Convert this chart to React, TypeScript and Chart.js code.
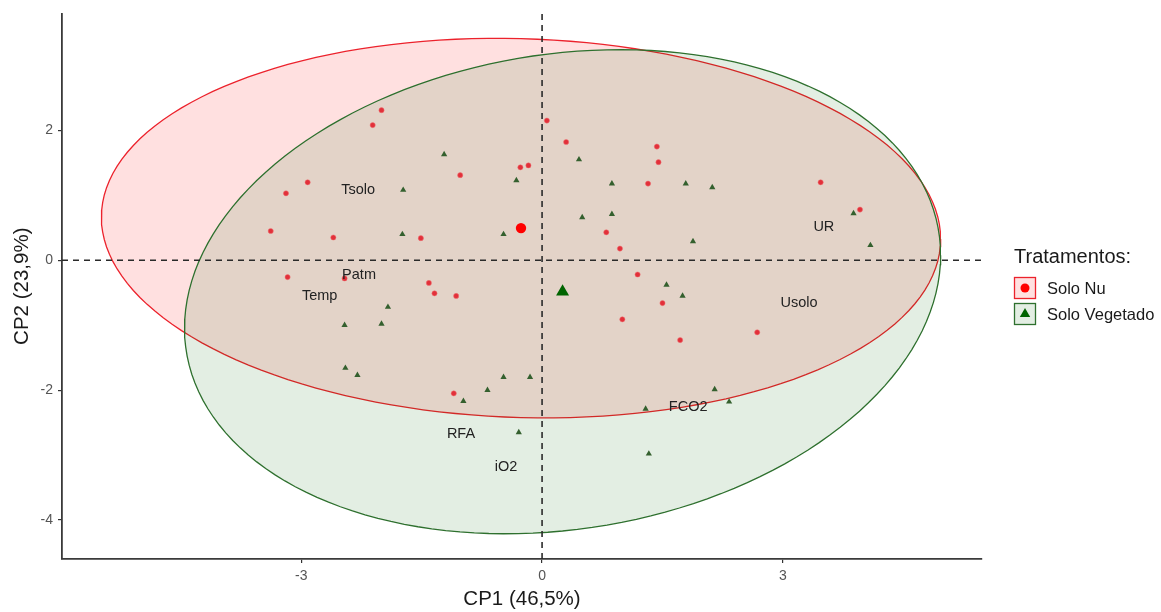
import React, { useEffect, useRef } from 'react';
import { Chart, registerables } from 'chart.js';

Chart.register(...registerables);

// ---------- data ----------
const GROUPS = ['Solo Nu', 'Solo Vegetado'];
const LEGEND_TITLE = 'Tratamentos:';
const X_TITLE = 'CP1 (46,5%)';
const Y_TITLE = 'CP2 (23,9%)';
const X_TICKS = [-3, 0, 3];
const Y_TICKS = [-4, -2, 0, 2];
const X_RANGE = [-5.98, 5.48];
const Y_RANGE = [-4.6, 3.8];

// Solo Nu individuals (CP1, CP2)
const NU_X = [-2.0, -2.11, -2.92, -3.19, -3.38, -2.6, -1.51, -1.02, -0.27, -0.17,
  0.06, 0.3, 1.43, 1.45, 1.32, 0.8, 0.97, 1.19, 1.5, 1.0,
  1.72, 2.68, 3.47, 3.96, -3.17, -2.46, -1.41, -1.34, -1.07, -1.1];
const NU_Y = [2.31, 2.08, 1.2, 1.03, 0.45, 0.35, 0.34, 1.31, 1.43, 1.46,
  2.15, 1.82, 1.75, 1.51, 1.18, 0.43, 0.18, -0.22, -0.66, -0.91,
  -1.23, -1.11, 1.2, 0.78, -0.26, -0.28, -0.35, -0.51, -0.55, -2.05];

// Solo Vegetado individuals (CP1, CP2)
const VEG_X = [-1.22, -1.73, -1.74, 0.46, -0.32, 0.87, 0.5, 0.87, -0.48, 1.79,
  2.12, 1.88, 3.88, 4.09, -1.92, -2.46, -2.0, -2.45, -2.3, -0.48,
  -0.15, -0.68, -0.98, -0.29, 1.29, 1.33, 1.55, 1.75, 2.15, 2.33];
const VEG_Y = [1.63, 1.08, 0.4, 1.55, 1.23, 1.18, 0.66, 0.71, 0.4, 1.18,
  1.12, 0.29, 0.72, 0.23, -0.72, -1.0, -0.98, -1.66, -1.77, -1.8,
  -1.8, -2.0, -2.17, -2.65, -2.29, -2.98, -0.38, -0.55, -1.99, -2.18];

// variable labels
const VAR_NAMES = ['Tsolo', 'Patm', 'Temp', 'UR', 'Usolo', 'FCO2', 'RFA', 'iO2'];
const VAR_X = [-2.29, -2.28, -2.77, 3.51, 3.2, 1.82, -1.01, -0.45];
const VAR_Y = [1.08, -0.22, -0.55, 0.51, -0.66, -2.26, -2.68, -3.18];

// 95% normal ellipse radius: sqrt(2 * qf(0.95, 2, 29))
const ELLIPSE_RADIUS = 2.58;

// ---------- styles ----------
const FONT = '"Liberation Sans", Arial, Helvetica, sans-serif';
const RED_LINE = 'rgb(236,34,44)';
const RED_FILL = 'rgba(255,0,0,0.12)';
const RED_PT = 'rgb(226,48,58)';
const RED_MEAN = 'rgb(255,0,0)';
const GREEN_LINE = 'rgb(46,112,46)';
const GREEN_FILL = 'rgba(0,100,0,0.11)';
const GREEN_PT = 'rgb(52,96,46)';
const GREEN_MEAN = 'rgb(0,100,0)';

function mean(a: number[]) {
  return a.reduce((s, v) => s + v, 0) / a.length;
}

function ellipsePoints(xs: number[], ys: number[], r: number, n = 160) {
  const N = xs.length;
  const mx = mean(xs);
  const my = mean(ys);
  let sxx = 0, syy = 0, sxy = 0;
  for (let i = 0; i < N; i++) {
    const dx = xs[i] - mx;
    const dy = ys[i] - my;
    sxx += dx * dx;
    syy += dy * dy;
    sxy += dx * dy;
  }
  sxx /= N - 1; syy /= N - 1; sxy /= N - 1;
  const a = Math.sqrt(sxx);
  const b = sxy / a;
  const c = Math.sqrt(syy - b * b);
  const pts: { x: number; y: number }[] = [];
  for (let k = 0; k <= n; k++) {
    const t = (2 * Math.PI * k) / n;
    const u = Math.cos(t), v = Math.sin(t);
    pts.push({ x: mx + r * (u * a), y: my + r * (u * b + v * c) });
  }
  return pts;
}

const toPts = (xs: number[], ys: number[]) => xs.map((x, i) => ({ x, y: ys[i] }));

const overlayPlugin = {
  id: 'overlay',
  afterDatasetsDraw(chart: any) {
    const ctx = chart.ctx;
    const xs = chart.scales.x;
    const ys = chart.scales.y;
    ctx.save();
    ctx.font = `14.5px ${FONT}`;
    ctx.fillStyle = '#222';
    ctx.textAlign = 'center';
    ctx.textBaseline = 'middle';
    VAR_NAMES.forEach((name, i) => {
      ctx.fillText(name, xs.getPixelForValue(VAR_X[i]), ys.getPixelForValue(VAR_Y[i]));
    });
    ctx.restore();
  },
  afterDraw(chart: any) {
    const ctx = chart.ctx;
    const left = 1014;
    ctx.save();
    ctx.fillStyle = '#1a1a1a';
    ctx.textAlign = 'left';
    ctx.textBaseline = 'middle';
    ctx.font = `20px ${FONT}`;
    ctx.fillText(LEGEND_TITLE, left, 257);
    const keys = [
      { fill: RED_FILL, line: RED_LINE, pt: RED_MEAN, shape: 'circle' },
      { fill: GREEN_FILL, line: GREEN_LINE, pt: GREEN_MEAN, shape: 'triangle' },
    ];
    keys.forEach((k, i) => {
      const top = 277 + i * 26;
      const size = 22;
      ctx.fillStyle = '#fff';
      ctx.fillRect(left, top, size, size);
      ctx.fillStyle = k.fill;
      ctx.fillRect(left, top, size, size);
      ctx.strokeStyle = k.line;
      ctx.lineWidth = 1.3;
      ctx.strokeRect(left + 0.5, top + 0.5, size - 1, size - 1);
      const cx = left + size / 2;
      const cy = top + size / 2;
      ctx.fillStyle = k.pt;
      ctx.beginPath();
      if (k.shape === 'circle') {
        ctx.arc(cx, cy, 4.5, 0, Math.PI * 2);
      } else {
        const r = 6;
        ctx.moveTo(cx, cy - r);
        ctx.lineTo(cx + r * 0.866, cy + r * 0.5);
        ctx.lineTo(cx - r * 0.866, cy + r * 0.5);
        ctx.closePath();
      }
      ctx.fill();
      ctx.fillStyle = '#1a1a1a';
      ctx.font = `16.5px ${FONT}`;
      ctx.fillText(GROUPS[i], 1047, cy + 1);
    });
    ctx.restore();
  },
};

export default function App() {
  const ref = useRef<HTMLCanvasElement | null>(null);

  useEffect(() => {
    if (!ref.current) return;
    const nuEllipse = ellipsePoints(NU_X, NU_Y, ELLIPSE_RADIUS);
    const vegEllipse = ellipsePoints(VEG_X, VEG_Y, ELLIPSE_RADIUS);

    const chart = new Chart(ref.current, {
      type: 'scatter',
      data: {
        datasets: [
          {
            label: GROUPS[0] + ' mean',
            data: [{ x: mean(NU_X), y: mean(NU_Y) }],
            pointStyle: 'circle',
            pointRadius: 5.2,
            backgroundColor: RED_MEAN,
            borderWidth: 0,
            order: 0,
          },
          {
            label: GROUPS[1] + ' mean',
            data: [{ x: mean(VEG_X), y: mean(VEG_Y) }],
            pointStyle: 'triangle',
            pointRadius: 7.5,
            backgroundColor: GREEN_MEAN,
            borderWidth: 0,
            order: 0,
          },
          {
            label: GROUPS[0],
            data: toPts(NU_X, NU_Y),
            pointStyle: 'circle',
            pointRadius: 2.6,
            backgroundColor: RED_PT,
            borderColor: 'rgba(240,120,120,0.5)',
            borderWidth: 1,
            order: 1,
          },
          {
            label: GROUPS[1],
            data: toPts(VEG_X, VEG_Y),
            pointStyle: 'triangle',
            pointRadius: 3.6,
            backgroundColor: GREEN_PT,
            borderWidth: 0,
            order: 1,
          },
          {
            label: 'h0',
            data: [{ x: X_RANGE[0], y: 0 }, { x: X_RANGE[1], y: 0 }],
            showLine: true,
            pointRadius: 0,
            borderColor: '#2a2a2a',
            borderWidth: 1.6,
            borderDash: [6, 5],
            fill: false,
            order: 3,
          },
          {
            label: 'v0',
            data: [{ x: 0, y: Y_RANGE[0] }, { x: 0, y: Y_RANGE[1] }],
            showLine: true,
            pointRadius: 0,
            borderColor: '#2a2a2a',
            borderWidth: 1.6,
            borderDash: [6, 5],
            fill: false,
            order: 3,
          },
          {
            label: GROUPS[1] + ' ellipse',
            data: vegEllipse,
            showLine: true,
            pointRadius: 0,
            borderColor: GREEN_LINE,
            borderWidth: 1.3,
            backgroundColor: GREEN_FILL,
            fill: 'shape',
            tension: 0,
            order: 5,
          },
          {
            label: GROUPS[0] + ' ellipse',
            data: nuEllipse,
            showLine: true,
            pointRadius: 0,
            borderColor: RED_LINE,
            borderWidth: 1.3,
            backgroundColor: RED_FILL,
            fill: 'shape',
            tension: 0,
            order: 6,
          },
        ] as any,
      },
      options: {
        animation: false,
        responsive: true,
        maintainAspectRatio: false,
        layout: { padding: { left: 0, right: 179, top: 13, bottom: 0 } },
        plugins: {
          legend: { display: false },
          tooltip: { enabled: false },
        },
        events: [],
        scales: {
          x: {
            type: 'linear',
            min: X_RANGE[0],
            max: X_RANGE[1],
            afterBuildTicks: (s: any) => {
              s.ticks = X_TICKS.map((v) => ({ value: v }));
            },
            afterFit: (s: any) => {
              s.height = 53;
            },
            grid: { drawOnChartArea: false, drawTicks: true, tickLength: 4, color: '#333', lineWidth: 1.2 },
            border: { display: true, color: '#3a3a3a', width: 1.8 },
            ticks: {
              color: '#555',
              font: { family: FONT, size: 14 },
              padding: 5,
              callback: (v: any) => String(v),
            },
            title: {
              display: true,
              text: X_TITLE,
              color: '#1a1a1a',
              font: { family: FONT, size: 20.5 },
              padding: { top: 0, bottom: 0 },
            },
          },
          y: {
            type: 'linear',
            min: Y_RANGE[0],
            max: Y_RANGE[1],
            afterBuildTicks: (s: any) => {
              s.ticks = Y_TICKS.map((v) => ({ value: v }));
            },
            afterFit: (s: any) => {
              s.width = 62;
            },
            grid: { drawOnChartArea: false, drawTicks: true, tickLength: 4, color: '#333', lineWidth: 1.2 },
            border: { display: true, color: '#3a3a3a', width: 1.8 },
            ticks: {
              color: '#555',
              font: { family: FONT, size: 14 },
              padding: 5,
              callback: (v: any) => String(v),
            },
            title: {
              display: true,
              text: Y_TITLE,
              color: '#1a1a1a',
              font: { family: FONT, size: 20.5 },
              padding: { top: 10, bottom: 0 },
            },
          },
        },
      } as any,
      plugins: [overlayPlugin],
    });
    return () => chart.destroy();
  }, []);

  return (
    <div style={{ position: 'fixed', left: 0, top: 0, width: 1161, height: 612, background: '#fff' }}>
      <canvas ref={ref} />
    </div>
  );
}
